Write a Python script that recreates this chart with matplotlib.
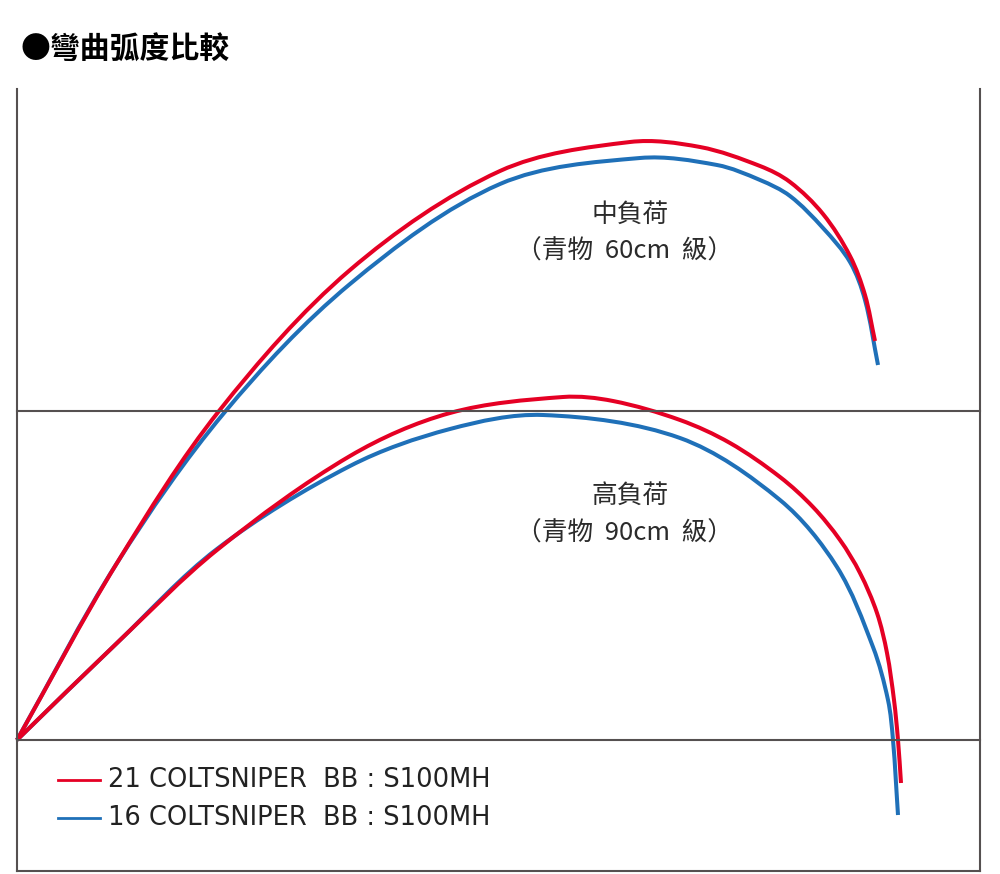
import matplotlib.pyplot as plt
import numpy as np
from matplotlib.path import Path
from matplotlib.patches import PathPatch

# curve points: horizontal distance from rod butt, height above baseline
mid_21_x = [0, 100, 202, 333, 483, 613, 683, 743, 773, 806, 833, 848, 858]
mid_21_y = [0, 177, 329, 470, 569, 598, 593, 574, 558, 526, 484, 445, 399]
mid_16_x = [0, 100, 207, 333, 483, 623, 700, 743, 773, 806, 833, 848, 861]
mid_16_y = [0, 177, 327, 456, 556, 582, 575, 560, 544, 512, 478, 440, 375]

high_21_x = [0, 100, 200, 333, 433, 546, 596, 663, 713, 763, 796, 823, 843, 860, 870, 877, 881, 884]
high_21_y = [0, 97, 190, 284, 327, 343, 339, 320, 297, 263, 233, 200, 167, 127, 87, 40, 0, -43]
high_16_x = [0, 100, 200, 333, 433, 526, 663, 763, 820, 856, 871, 876, 881]
high_16_y = [0, 97, 191, 274, 311, 325, 302, 240, 173, 93, 40, 0, -75]

series_names = ['21 COLTSNIPER  BB : S100MH', '16 COLTSNIPER  BB : S100MH']
red = '#e50024'
blue = '#1f70b8'

plt.rcParams['font.family'] = ['Noto Sans CJK TC', 'DejaVu Sans']


def smooth_path(xs, ys):
    # cubic bezier through the read points (chord-length tangents)
    p = np.column_stack([xs, ys]).astype(float)
    n = len(p)
    d = np.hypot(*np.diff(p, axis=0).T)
    t = np.zeros_like(p)
    t[0] = (p[1] - p[0]) / d[0]
    t[-1] = (p[-1] - p[-2]) / d[-1]
    for i in range(1, n - 1):
        t[i] = (p[i + 1] - p[i - 1]) / (d[i - 1] + d[i])
    verts = [p[0]]
    codes = [Path.MOVETO]
    for i in range(n - 1):
        verts += [p[i] + t[i] * d[i] / 3, p[i + 1] - t[i + 1] * d[i] / 3, p[i + 1]]
        codes += [Path.CURVE4] * 3
    return Path(verts, codes)


fig = plt.figure(figsize=(10, 8.74), dpi=100)
ax = fig.add_axes([0, 0, 1, 1])
ax.set_xlim(-17, 983)
ax.set_ylim(-134, 740)
ax.axis('off')

# frame
frame = '#555050'
ax.plot([0, 0], [651, -131], color=frame, lw=1.5)
ax.plot([963, 963], [651, -131], color=frame, lw=1.5)
ax.plot([0, 963], [-131, -131], color=frame, lw=1.5)
ax.plot([0, 963], [329, 329], color=frame, lw=1.5)
ax.plot([0, 963], [0, 0], color=frame, lw=1.5)

# blue under red
for xs, ys, c in [(mid_16_x, mid_16_y, blue), (high_16_x, high_16_y, blue),
                  (mid_21_x, mid_21_y, red), (high_21_x, high_21_y, red)]:
    ax.add_patch(PathPatch(smooth_path(xs, ys), facecolor='none', edgecolor=c,
                           lw=2.9, capstyle='butt'))

txt = '#2b2b2b'
ax.text(613, 525, '中負荷', ha='center', va='center', fontsize=18.5, color=txt)
ax.text(608, 488, '（青物  60cm  級）', ha='center', va='center', fontsize=18.5, color=txt)
ax.text(613, 244, '高負荷', ha='center', va='center', fontsize=18.5, color=txt)
ax.text(608, 206, '（青物  90cm  級）', ha='center', va='center', fontsize=18.5, color=txt)

ax.text(4, 690, '●彎曲弧度比較', ha='left', va='center', fontsize=21.5,
        fontweight='bold', color='black')

# legend
for i, (name, c) in enumerate(zip(series_names, [red, blue])):
    yy = -40 - i * 38
    ax.plot([41, 83], [yy, yy], color=c, lw=2)
    ax.text(91, yy, name, ha='left', va='center', fontsize=18.5, color='#222222',
            family=['DejaVu Sans'])

plt.savefig('out.png')
